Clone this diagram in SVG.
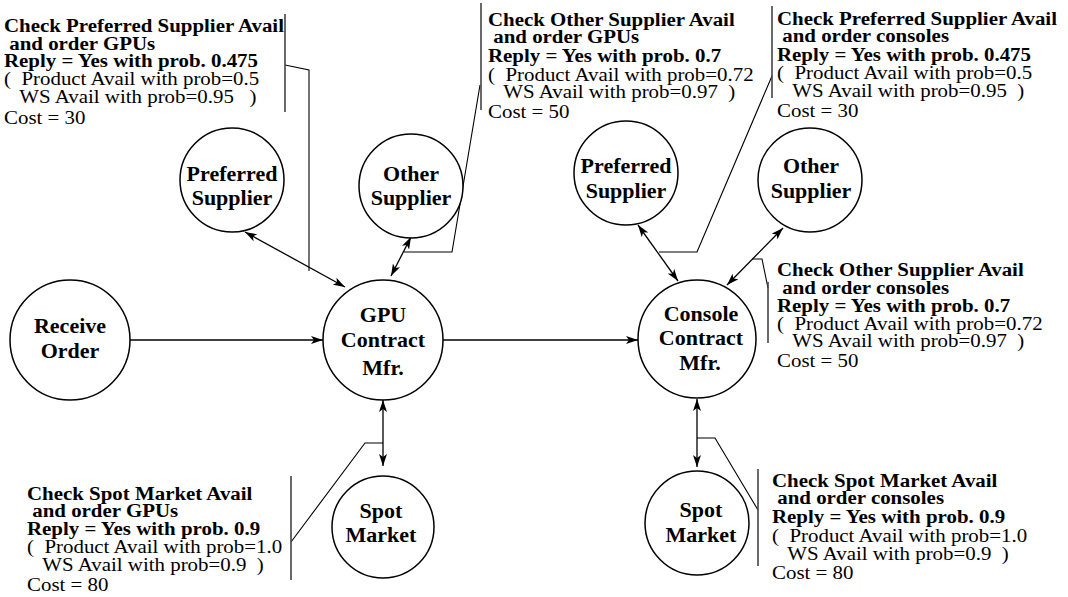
<svg xmlns="http://www.w3.org/2000/svg" width="1068" height="597" viewBox="0 0 1068 597">
<style>
.node circle{fill:#fff;stroke:#000;stroke-width:1.5}
.nt{font-family:"Liberation Serif","Times New Roman",serif;font-weight:bold;font-size:22px;text-anchor:middle;fill:#000}
.lb{font-family:"Liberation Serif","Times New Roman",serif;font-size:19px;fill:#000;white-space:pre}
.b{font-weight:bold}
.conn line{stroke:#000;stroke-width:1.3;fill:none}
.call polyline{stroke:#000;stroke-width:1.1;fill:none}
.bar{stroke:#444;stroke-width:1.6}
</style>
<defs>
<marker id="ah" viewBox="0 0 12 8" refX="12" refY="4" markerWidth="12" markerHeight="8" markerUnits="userSpaceOnUse" orient="auto-start-reverse">
<path d="M0,0 L12,4 L0,8 L3,4 Z" fill="#000"/>
</marker>
</defs>
<rect width="1068" height="597" fill="#fff"/>

<g id="connectors" class="conn">
<line x1="130" y1="340" x2="323" y2="340" marker-end="url(#ah)"/>
<line x1="443" y1="340" x2="638" y2="340" marker-end="url(#ah)"/>
<line x1="245" y1="232" x2="345" y2="287" marker-start="url(#ah)" marker-end="url(#ah)"/>
<line x1="411" y1="237" x2="391" y2="276" marker-start="url(#ah)" marker-end="url(#ah)"/>
<line x1="638" y1="225" x2="678" y2="281" marker-start="url(#ah)" marker-end="url(#ah)"/>
<line x1="783" y1="228" x2="727" y2="285" marker-start="url(#ah)" marker-end="url(#ah)"/>
<line x1="383" y1="400" x2="383" y2="466" marker-start="url(#ah)" marker-end="url(#ah)"/>
<line x1="697" y1="399" x2="697" y2="467" marker-start="url(#ah)" marker-end="url(#ah)"/>
</g>

<g id="callouts" class="call">
<polyline points="285,65 309,70 309,271"/>
<polyline points="480,85 452,252 404,252"/>
<polyline points="772,76 697,252 659,252"/>
<polyline points="752,259 762,259 768,288"/>
<polyline points="383,443 365,443 291,542"/>
<polyline points="697,438 715,438 758,510"/>
<line class="bar" x1="285" y1="14" x2="285" y2="112"/>
<line class="bar" x1="481" y1="3" x2="481" y2="110"/>
<line class="bar" x1="772" y1="6" x2="772" y2="98"/>
<line class="bar" x1="768" y1="282" x2="768" y2="343"/>
<line class="bar" x1="291" y1="476" x2="291" y2="580"/>
<line class="bar" x1="758" y1="469" x2="758" y2="566"/>
</g>

<g id="receive-order" class="node">
<circle cx="70" cy="340" r="60"/>
<text class="nt" x="70" y="333">Receive</text>
<text class="nt" x="70" y="358">Order</text>
</g>
<g id="gpu-contract-mfr" class="node">
<circle cx="383" cy="340" r="60"/>
<text class="nt" x="383" y="322">GPU</text>
<text class="nt" x="383" y="347">Contract</text>
<text class="nt" x="383" y="375">Mfr.</text>
</g>
<g id="console-contract-mfr" class="node">
<circle cx="697" cy="339" r="59"/>
<text class="nt" x="701" y="321">Console</text>
<text class="nt" x="701" y="345">Contract</text>
<text class="nt" x="700" y="370">Mfr.</text>
</g>
<g id="gpu-preferred-supplier" class="node">
<circle cx="232" cy="180" r="52"/>
<text class="nt" x="232" y="181">Preferred</text>
<text class="nt" x="232" y="205">Supplier</text>
</g>
<g id="gpu-other-supplier" class="node">
<circle cx="411" cy="186" r="52"/>
<text class="nt" x="411" y="181">Other</text>
<text class="nt" x="411" y="205">Supplier</text>
</g>
<g id="console-preferred-supplier" class="node">
<circle cx="626" cy="173" r="52"/>
<text class="nt" x="626" y="173">Preferred</text>
<text class="nt" x="626" y="198">Supplier</text>
</g>
<g id="console-other-supplier" class="node">
<circle cx="810" cy="180" r="52"/>
<text class="nt" x="811" y="173">Other</text>
<text class="nt" x="811" y="198">Supplier</text>
</g>
<g id="gpu-spot-market" class="node">
<circle cx="383" cy="527" r="51"/>
<text class="nt" x="381" y="518">Spot</text>
<text class="nt" x="381" y="542">Market</text>
</g>
<g id="console-spot-market" class="node">
<circle cx="697" cy="523" r="52"/>
<text class="nt" x="701" y="517">Spot</text>
<text class="nt" x="701" y="542">Market</text>
</g>

<g id="label-gpu-preferred" transform="translate(4,0) scale(1.1,1)">
<text class="lb b" x="0" y="32">Check Preferred Supplier Avail</text>
<text class="lb b" x="0" y="50"> and order GPUs</text>
<text class="lb b" x="0" y="67">Reply = Yes with prob. 0.475</text>
<text class="lb" x="0" y="85">(  Product Avail with prob=0.5</text>
<text class="lb" x="0" y="103">   WS Avail with prob=0.95   )</text>
<text class="lb" x="0" y="124">Cost = 30</text>
</g>
<g id="label-gpu-other" transform="translate(488,0) scale(1.1,1)">
<text class="lb b" x="0" y="26">Check Other Supplier Avail</text>
<text class="lb b" x="0" y="43"> and order GPUs</text>
<text class="lb b" x="0" y="62">Reply = Yes with prob. 0.7</text>
<text class="lb" x="0" y="81">(  Product Avail with prob=0.72</text>
<text class="lb" x="0" y="98">   WS Avail with prob=0.97  )</text>
<text class="lb" x="0" y="118">Cost = 50</text>
</g>
<g id="label-console-preferred" transform="translate(777,0) scale(1.1,1)">
<text class="lb b" x="0" y="25">Check Preferred Supplier Avail</text>
<text class="lb b" x="0" y="42"> and order consoles</text>
<text class="lb b" x="0" y="61">Reply = Yes with prob. 0.475</text>
<text class="lb" x="0" y="79">(  Product Avail with prob=0.5</text>
<text class="lb" x="0" y="97">   WS Avail with prob=0.95  )</text>
<text class="lb" x="0" y="117">Cost = 30</text>
</g>
<g id="label-console-other" transform="translate(777,0) scale(1.1,1)">
<text class="lb b" x="0" y="276">Check Other Supplier Avail</text>
<text class="lb b" x="0" y="294"> and order consoles</text>
<text class="lb b" x="0" y="312">Reply = Yes with prob. 0.7</text>
<text class="lb" x="0" y="330">(  Product Avail with prob=0.72</text>
<text class="lb" x="0" y="347">   WS Avail with prob=0.97  )</text>
<text class="lb" x="0" y="367">Cost = 50</text>
</g>
<g id="label-gpu-spot" transform="translate(27,0) scale(1.1,1)">
<text class="lb b" x="0" y="500">Check Spot Market Avail</text>
<text class="lb b" x="0" y="517"> and order GPUs</text>
<text class="lb b" x="0" y="535">Reply = Yes with prob. 0.9</text>
<text class="lb" x="0" y="553">(  Product Avail with prob=1.0</text>
<text class="lb" x="0" y="571">   WS Avail with prob=0.9  )</text>
<text class="lb" x="0" y="591">Cost = 80</text>
</g>
<g id="label-console-spot" transform="translate(772,0) scale(1.1,1)">
<text class="lb b" x="0" y="487">Check Spot Market Avail</text>
<text class="lb b" x="0" y="504"> and order consoles</text>
<text class="lb b" x="0" y="523">Reply = Yes with prob. 0.9</text>
<text class="lb" x="0" y="542">(  Product Avail with prob=1.0</text>
<text class="lb" x="0" y="560">   WS Avail with prob=0.9  )</text>
<text class="lb" x="0" y="579">Cost = 80</text>
</g>
</svg>
